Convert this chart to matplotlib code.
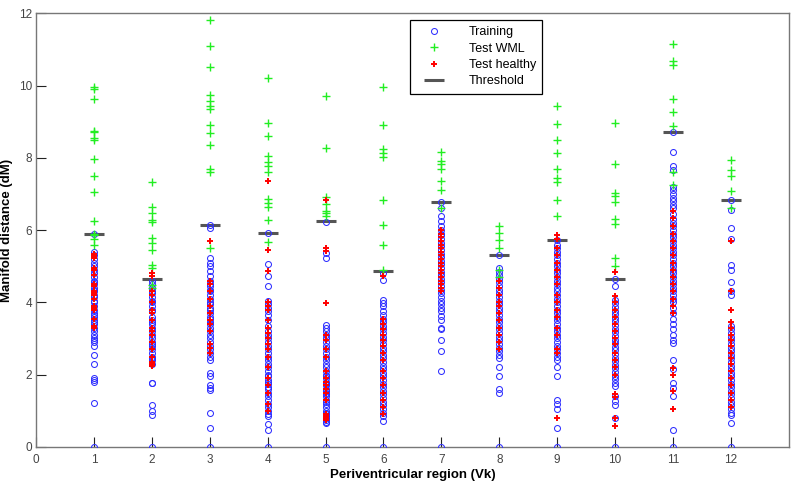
import matplotlib
matplotlib.use("Agg")
import matplotlib.pyplot as plt
import numpy as np

plt.rcParams["font.family"] = ["Liberation Sans", "DejaVu Sans"]

regions = list(range(1, 13))

thresholds = [5.89, 4.64, 6.13, 5.92, 6.24, 4.88, 6.77, 5.32, 5.73, 4.64, 8.71, 6.84]

training = [
    [5.88, 5.4, 5.3, 5.2, 5.1, 5.0, 4.9, 4.8, 4.7, 4.6, 4.55, 4.5, 4.4, 4.35, 4.3, 4.2, 4.15, 4.05, 4.0, 3.9,
     3.8, 3.7, 3.65, 3.6, 3.5, 3.45, 3.4, 3.3, 3.2, 3.1, 3.0, 2.95, 2.9, 2.8, 2.55, 2.28, 1.9, 1.85, 1.8, 1.22, 0],
    [4.6, 4.5, 4.4, 4.3, 4.25, 4.15, 4.05, 4.0, 3.9, 3.8, 3.75, 3.6, 3.5, 3.45, 3.4, 3.3, 3.2, 3.1, 3.0, 2.9,
     2.85, 2.8, 2.7, 2.6, 2.5, 2.45, 2.4, 2.3, 1.78, 1.76, 1.15, 0.98, 0.88, 0],
    [6.13, 6.05, 5.23, 5.09, 5.0, 4.86, 4.72, 4.6, 4.5, 4.45, 4.35, 4.3, 4.2, 4.1, 4.0, 3.95, 3.85, 3.8, 3.7,
     3.6, 3.55, 3.45, 3.4, 3.3, 3.2, 3.1, 3.0, 2.9, 2.8, 2.7, 2.6, 2.5, 2.41, 2.05, 1.95, 1.72, 1.63, 1.58,
     0.94, 0.53, 0],
    [5.92, 5.05, 4.72, 4.44, 4.03, 3.95, 3.85, 3.75, 3.65, 3.5, 3.35, 3.2, 3.1, 3.0, 2.9, 2.8, 2.7, 2.6, 2.5,
     2.4, 2.3, 2.2, 2.1, 2.0, 1.95, 1.85, 1.8, 1.75, 1.65, 1.6, 1.5, 1.4, 1.3, 1.2, 1.1, 1.0, 0.9, 0.85,
     0.62, 0.48, 0],
    [6.21, 5.36, 5.23, 3.38, 3.3, 3.2, 3.1, 3.0, 2.9, 2.8, 2.7, 2.6, 2.5, 2.4, 2.3, 2.2, 2.1, 2.0, 1.95, 1.9,
     1.8, 1.75, 1.7, 1.6, 1.55, 1.5, 1.45, 1.4, 1.3, 1.25, 1.2, 1.1, 1.0, 0.95, 0.9, 0.85, 0.8, 0.75, 0.7,
     0.65, 0],
    [4.82, 4.63, 4.07, 3.98, 3.89, 3.76, 3.66, 3.55, 3.45, 3.35, 3.25, 3.15, 3.05, 2.95, 2.85, 2.75, 2.65,
     2.55, 2.45, 2.35, 2.25, 2.15, 2.05, 1.95, 1.85, 1.75, 1.65, 1.55, 1.45, 1.35, 1.25, 1.15, 1.05, 0.95,
     0.85, 0.71, 0],
    [6.77, 6.6, 6.4, 6.25, 6.1, 6.0, 5.9, 5.85, 5.75, 5.65, 5.55, 5.45, 5.35, 5.25, 5.15, 5.05, 4.95, 4.85,
     4.75, 4.65, 4.55, 4.45, 4.35, 4.25, 4.15, 4.05, 3.95, 3.85, 3.75, 3.62, 3.5, 3.3, 3.25, 2.95, 2.65, 2.1, 0],
    [5.3, 4.95, 4.85, 4.75, 4.65, 4.55, 4.45, 4.35, 4.25, 4.15, 4.05, 3.95, 3.85, 3.75, 3.65, 3.55, 3.45,
     3.35, 3.25, 3.15, 3.05, 2.95, 2.85, 2.75, 2.65, 2.55, 2.45, 2.2, 1.95, 1.6, 1.5, 0],
    [5.73, 5.6, 5.5, 5.4, 5.3, 5.2, 5.1, 5.0, 4.9, 4.8, 4.7, 4.6, 4.5, 4.4, 4.3, 4.2, 4.1, 4.0, 3.9, 3.8,
     3.7, 3.6, 3.5, 3.4, 3.3, 3.2, 3.1, 3.0, 2.9, 2.8, 2.7, 2.6, 2.5, 2.4, 2.2, 1.95, 1.3, 1.2, 1.05, 0.52, 0],
    [4.64, 4.44, 4.07, 3.97, 3.87, 3.77, 3.67, 3.57, 3.47, 3.37, 3.27, 3.17, 3.07, 2.97, 2.87, 2.77, 2.67,
     2.57, 2.47, 2.37, 2.27, 2.17, 2.07, 1.97, 1.87, 1.77, 1.68, 1.4, 1.26, 1.17, 0.8, 0],
    [8.71, 8.15, 7.78, 7.65, 7.2, 7.1, 7.0, 6.9, 6.8, 6.7, 6.6, 6.45, 6.3, 6.2, 6.1, 6.0, 5.9, 5.8, 5.7, 5.6,
     5.5, 5.4, 5.3, 5.2, 5.1, 5.0, 4.9, 4.8, 4.7, 4.6, 4.5, 4.4, 4.3, 4.2, 4.1, 4.0, 3.85, 3.7, 3.55, 3.4,
     3.25, 3.1, 2.95, 2.88, 2.41, 2.15, 1.77, 1.62, 1.4, 0.48, 0],
    [6.84, 6.56, 6.05, 5.75, 5.03, 4.9, 4.55, 4.3, 4.21, 3.34, 3.25, 3.15, 3.05, 2.95, 2.85, 2.75, 2.65,
     2.55, 2.45, 2.35, 2.25, 2.15, 2.05, 1.95, 1.85, 1.75, 1.65, 1.55, 1.45, 1.35, 1.25, 1.15, 1.05, 0.95,
     0.89, 0.65, 0],
]

test_wml = [
    [9.95, 9.9, 9.62, 8.75, 8.7, 8.55, 8.48, 7.98, 7.5, 7.05, 6.25, 5.9, 5.85, 5.75, 5.6],
    [7.32, 6.65, 6.47, 6.29, 6.21, 5.78, 5.64, 5.44, 5.04, 4.95, 4.49, 4.4],
    [11.8, 11.08, 10.5, 9.74, 9.56, 9.44, 9.35, 8.91, 8.68, 8.36, 7.69, 7.62, 5.5],
    [10.2, 8.96, 8.61, 8.04, 7.88, 7.76, 7.6, 6.86, 6.75, 6.64, 6.27, 5.67],
    [9.7, 8.27, 6.91, 6.73, 6.54, 6.47, 6.4],
    [9.97, 8.9, 8.24, 8.13, 8.02, 6.82, 6.13, 5.6, 4.9],
    [8.15, 7.92, 7.82, 7.7, 7.35, 7.1, 6.6],
    [6.1, 5.92, 5.73, 5.5, 4.9, 4.7],
    [9.42, 8.93, 8.48, 8.13, 7.69, 7.44, 7.32, 6.82, 6.38],
    [8.96, 7.82, 7.02, 6.93, 6.78, 6.3, 6.18, 5.23, 5.01],
    [11.14, 10.69, 10.57, 9.62, 9.26, 8.88, 7.62, 7.25],
    [7.93, 7.67, 7.5, 7.09, 6.6],
]

test_healthy = [
    [5.35, 5.28, 5.22, 4.95, 4.9, 4.75, 4.5, 4.45, 4.3, 4.25, 4.2, 4.1, 3.9, 3.85, 3.8, 3.55, 3.35, 3.3],
    [4.8, 4.72, 4.3, 4.2, 4.0, 3.8, 3.7, 3.5, 3.3, 3.2, 3.1, 2.9, 2.7, 2.5, 2.35, 2.3, 2.25],
    [5.7, 4.6, 4.5, 4.3, 4.1, 3.9, 3.7, 3.5, 3.4, 3.2, 2.85, 2.75, 2.6],
    [7.35, 5.46, 4.88, 4.0, 3.9, 3.8, 3.5, 3.3, 3.15, 3.0, 2.85, 2.7, 2.5, 2.2, 1.9, 1.7, 1.5, 1.2, 1.0],
    [6.82, 5.5, 5.41, 3.98, 3.1, 2.95, 2.7, 2.5, 2.1, 1.9, 1.8, 1.7, 1.6, 1.5, 1.3, 0.9, 0.85, 0.8, 0.75],
    [4.72, 3.53, 3.4, 3.25, 3.1, 2.95, 2.8, 2.6, 2.4, 2.1, 1.9, 1.7, 1.5, 1.3, 1.1, 0.9],
    [6.0, 5.9, 5.8, 5.7, 5.6, 5.5, 5.4, 5.3, 5.2, 5.1, 5.0, 4.9, 4.8, 4.7, 4.6, 4.5, 4.4, 4.3],
    [4.6, 4.4, 4.2, 4.0, 3.9, 3.7, 3.5, 3.3, 3.1, 2.9, 2.7],
    [5.86, 5.75, 5.5, 5.3, 5.1, 4.9, 4.7, 4.5, 4.2, 4.0, 3.8, 3.6, 3.3, 3.1, 2.7, 2.6, 0.8],
    [4.83, 4.18, 4.0, 3.8, 3.6, 3.4, 3.2, 3.0, 2.85, 2.6, 2.4, 2.2, 2.0, 1.45, 1.37, 0.8, 0.57],
    [6.52, 6.33, 6.1, 5.9, 5.7, 5.5, 5.3, 5.1, 4.9, 4.7, 4.5, 4.3, 4.1, 3.9, 3.7, 2.18, 2.0, 1.54, 1.05],
    [5.7, 4.3, 3.8, 3.45, 3.3, 3.1, 2.95, 2.8, 2.6, 2.45, 2.3, 2.1, 1.9, 1.7, 1.5, 1.3, 1.1],
]

fig = plt.figure(figsize=(8, 4.9), dpi=100)
ax = fig.add_axes([0.045, 0.088, 0.941, 0.885])


def xs_for(values, region):
    return np.full(len(values), region)


first = True
for r, thr, tr, wml, hl in zip(regions, thresholds, training, test_wml, test_healthy):
    ax.plot(xs_for(tr, r), tr, "o", ls="none", ms=4.3, mfc="none", mec="#3030ff", mew=0.75,
            label="Training" if first else None, zorder=3)
    ax.plot(xs_for(wml, r), wml, "+", ls="none", ms=5.5, color="#22ee22", mew=1.0,
            label="Test WML" if first else None, zorder=4)
    ax.plot(xs_for(hl, r), hl, "+", ls="none", ms=5, color="#ff0000", mew=1.4,
            label="Test healthy" if first else None, zorder=5)
    ax.plot([r], [thr], "_", ls="none", ms=14, color="#555555", mew=2.2,
            label="Threshold" if first else None, zorder=2)
    first = False

ax.set_xlim(0, 13)
ax.set_ylim(0, 12)
ax.set_xticks(range(0, 13))
ax.set_yticks(range(0, 13, 2))
ax.tick_params(axis="both", direction="in", length=7, width=0.8, color="#222222",
               labelcolor="#444444", labelsize=8.5, top=False, right=False)
ax.tick_params(axis="x", pad=5)
ax.tick_params(axis="y", pad=3)
for s in ax.spines.values():
    s.set_color("#777777")
    s.set_linewidth(1.0)

ax.set_xlabel("Periventricular region (Vk)", fontsize=9.5, fontweight="bold", labelpad=2)
ax.set_ylabel("Manifold distance (dM)", fontsize=9.5, fontweight="bold", labelpad=4)

leg = ax.legend(loc="upper left", bbox_to_anchor=(0.5125, 0.959), bbox_transform=fig.transFigure,
                borderaxespad=0, fancybox=False, framealpha=1, edgecolor="black", fontsize=9,
                borderpad=0.5, labelspacing=0.35, handletextpad=1.4, handlelength=2.8)
leg.get_frame().set_linewidth(0.9)

fig.savefig("out.png", dpi=100)
